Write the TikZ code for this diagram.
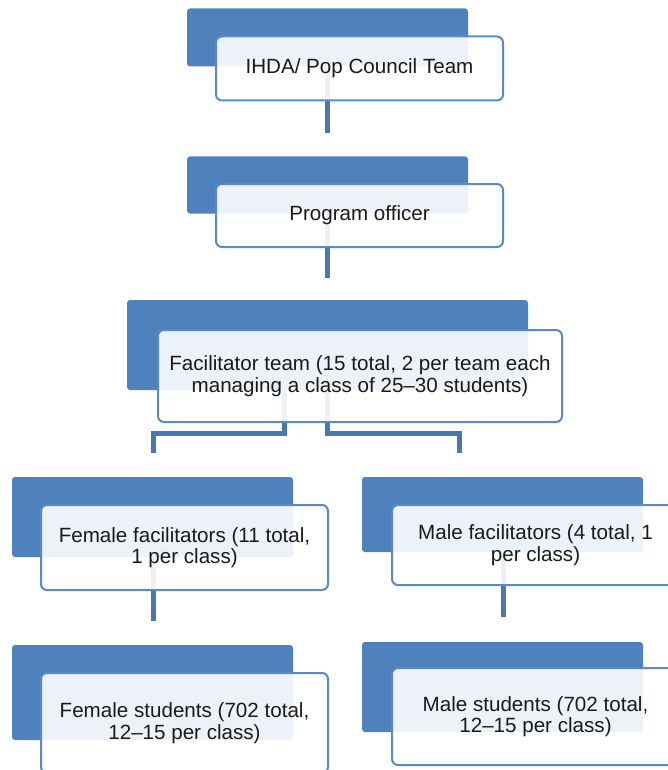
\documentclass[tikz,border=0pt]{standalone}
\usepackage{fontspec}
\setmainfont{Liberation Sans}
\definecolor{accent}{HTML}{4F81BD}
\definecolor{edgeblue}{HTML}{5A8AC6}
\definecolor{linkblue}{HTML}{4A77AD}
\definecolor{inkgray}{HTML}{1A1A1A}
\tikzset{
  backbox/.style={draw=none, fill=accent, rounded corners=3pt, inner sep=0pt},
  frontbox/.style={draw=edgeblue, line width=2pt, fill=white, fill opacity=0.9,
    text opacity=1, rounded corners=6pt, inner sep=0pt, align=center,
    text=inkgray, font=\fontsize{20.6}{21.5}\selectfont},
  link/.style={draw=linkblue, line width=5pt}
}
\begin{document}
\begin{tikzpicture}[x=1pt, y=-1pt]
\useasboundingbox (0,0) rectangle (668,770);
\clip (0,0) rectangle (668,770);

% back panels
\node[backbox, minimum width=281pt, minimum height=58pt] (b1) at (327.5,37.5) {};
\node[backbox, minimum width=281pt, minimum height=57pt] (b2) at (327.5,185) {};
\node[backbox, minimum width=401pt, minimum height=90pt] (b3) at (327.5,345) {};
\node[backbox, minimum width=281pt, minimum height=80pt] (b4) at (152.5,517) {};
\node[backbox, minimum width=281pt, minimum height=75pt] (b5) at (502.5,514.5) {};
\node[backbox, minimum width=281pt, minimum height=95pt] (b6) at (152.5,692.5) {};
\node[backbox, minimum width=281pt, minimum height=90pt] (b7) at (502.5,687) {};

% free ends of the connectors
\coordinate (e1) at (327,133);
\coordinate (e2) at (327,278);
\coordinate (hl) at (284,433);
\coordinate (hl2) at (153,433);
\coordinate (lt) at (153,453);
\coordinate (hr) at (327,433);
\coordinate (hr2) at (459,433);
\coordinate (rt) at (459,453);
\coordinate (e4) at (153,621);
\coordinate (e5) at (503,617);

% connectors
\draw[link] (b1.south -| e1) -- (e1);
\draw[link] (b2.south -| e2) -- (e2);
\draw[link] (b3.south -| hl) -- (hl) -- (hl2) -- (lt);
\draw[link] (b3.south -| hr) -- (hr) -- (hr2) -- (rt);
\draw[link] (b4.south -| e4) -- (e4);
\draw[link] (b5.south -| e5) -- (e5);

% front panels with text
\node[frontbox, minimum width=287pt, minimum height=64pt] (f1) at (359.5,68.5)
  {IHDA/ Pop Council Team};
\node[frontbox, minimum width=287pt, minimum height=63pt] (f2) at (359.5,215.5)
  {Program officer};
\node[frontbox, minimum width=404pt, minimum height=92pt] (f3) at (360,376)
  {Facilitator team (15 total, 2 per team each\\managing a class of 25--30 students)};
\node[frontbox, minimum width=287pt, minimum height=85pt] (f4) at (184.5,547.5)
  {Female facilitators (11 total,\\1 per class)};
\node[frontbox, minimum width=287pt, minimum height=80pt] (f5) at (535.5,545)
  {Male facilitators (4 total, 1\\per class)};
\node[frontbox, minimum width=287pt, minimum height=100pt] (f6) at (184.5,723)
  {Female students (702 total,\\12--15 per class)};
\node[frontbox, minimum width=287pt, minimum height=97pt] (f7) at (535.5,716.5)
  {Male students (702 total,\\12--15 per class)};
\end{tikzpicture}
\end{document}
